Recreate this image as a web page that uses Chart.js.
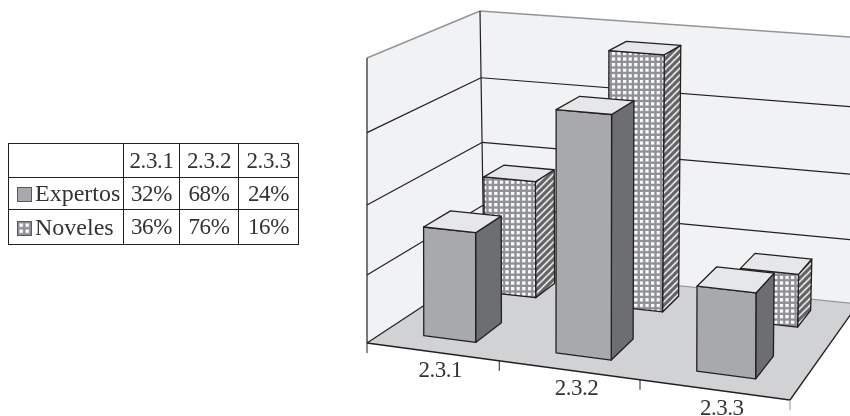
<html>
  <head>
    <meta charset="utf-8" />
    <script src="https://cdn.jsdelivr.net/npm/chart.js@4/dist/chart.umd.min.js"></script>
    <style>
      body { margin: 0; background: #fff; width: 850px; height: 416px; overflow: hidden; }
      #chart { position: absolute; left: 0; top: 0; }
      #tabla {
        position: absolute; left: 8px; top: 143px; width: 291px; height: 102px;
        table-layout: fixed; border-collapse: collapse;
        font-family: "Liberation Serif", serif; font-size: 23px; letter-spacing: -0.4px; color: #333;
      }
      #tabla td { box-sizing: border-box; border: 1px solid #231f20; padding: 0; text-align: center; white-space: nowrap; overflow: hidden; }
      #tabla td.serie { text-align: left; padding-left: 8px; font-size: 24px; letter-spacing: 0; }
      .swatch { display: inline-block; width: 13px; height: 13px; border: 1px solid #58595b; margin-right: 3px; vertical-align: -1px; }
    </style>
  </head>
  <body>
    <canvas id="chart" width="850" height="416"></canvas>
    <table id="tabla"></table>
    <script>
      const categories = ["2.3.1", "2.3.2", "2.3.3"];
      const expertos = [32, 68, 24];
      const noveles = [36, 76, 16];
      const seriesNames = ["Expertos", "Noveles"];
      const yTicks = [0, 20, 40, 60, 80];

      // the box the chart stands in, as seen on screen: [left/right][bottom/top][front/back]
      const box = {
        "000": [367, 343], "100": [790, 400], "001": [484, 266], "101": [858, 304],
        "010": [367, 58], "110": [790, 92], "011": [480, 11], "111": [866, 38]
      };
      const perspective = { u: -0.09, v: -0.06, w: 0.165 };
      // depth slots of the two rows of bars, 0 = front of floor, 1 = back wall
      const rows = [[0.14, 0.365], [0.68, 0.875]];

      const ink = "#231f20";
      const grey = "#939598";

      function warp(t, k) {
        return ((1 + k) * t) / (1 + k * t);
      }

      function project(u, v, w) {
        const a = warp(u, perspective.u);
        const b = warp(v, perspective.v);
        const c = warp(w, perspective.w);
        let x = 0, y = 0;
        for (const key in box) {
          const f = (key[0] == "1" ? a : 1 - a) * (key[1] == "1" ? b : 1 - b) * (key[2] == "1" ? c : 1 - c);
          x += f * box[key][0];
          y += f * box[key][1];
        }
        return [x, y];
      }

      function face(ctx, pts, fill, stroke, lineWidth) {
        ctx.beginPath();
        pts.forEach((p, i) => (i ? ctx.lineTo(p[0], p[1]) : ctx.moveTo(p[0], p[1])));
        ctx.closePath();
        if (fill) {
          ctx.fillStyle = fill;
          ctx.fill();
        }
        if (stroke) {
          ctx.strokeStyle = stroke;
          ctx.lineWidth = lineWidth || 1.3;
          ctx.stroke();
        }
      }

      function line(ctx, a, b, color, lineWidth) {
        ctx.beginPath();
        ctx.moveTo(a[0], a[1]);
        ctx.lineTo(b[0], b[1]);
        ctx.strokeStyle = color;
        ctx.lineWidth = lineWidth;
        ctx.stroke();
      }

      function dotTile() {
        const c = document.createElement("canvas");
        c.width = c.height = 8;
        const g = c.getContext("2d");
        g.fillStyle = "#8f9194";
        g.fillRect(0, 0, 8, 8);
        g.fillStyle = "#fff";
        g.fillRect(2, 2, 4.6, 4.6);
        return c;
      }

      function stripeTile() {
        const c = document.createElement("canvas");
        c.width = c.height = 8;
        const g = c.getContext("2d");
        g.fillStyle = "#636466";
        g.fillRect(0, 0, 8, 8);
        g.strokeStyle = "#fff";
        g.lineWidth = 1.6;
        [[-2, 10, 10, -2], [-6, 6, 6, -6], [2, 14, 14, 2]].forEach(l => {
          g.beginPath();
          g.moveTo(l[0], l[1]);
          g.lineTo(l[2], l[3]);
          g.stroke();
        });
        return c;
      }

      function drawRoom(chart, ctx) {
        const { x: xScale, y: yScale } = chart.scales;
        const toV = val => (yScale.bottom - yScale.getPixelForValue(val)) / (yScale.bottom - yScale.top);

        face(ctx, [project(0, 0, 0), project(0, 1, 0), project(0, 1, 1), project(0, 0, 1)], "#f1f2f4");
        face(ctx, [project(0, 0, 1), project(0, 1, 1), project(1, 1, 1), project(1, 0, 1)], "#f1f2f4");
        face(ctx, [project(0, 0, 0), project(0, 0, 1), project(1, 0, 1), project(1, 0, 0)], "#d1d2d4");

        yScale.ticks.forEach(t => {
          const v = toV(t.value);
          if (v > 0 && v < 1) {
            line(ctx, project(0, v, 0), project(0, v, 1), ink, 1.2);
            line(ctx, project(0, v, 1), project(1, v, 1), ink, 1.2);
          }
        });
        line(ctx, project(0, 1, 0), project(0, 1, 1), grey, 1.5);
        line(ctx, project(0, 1, 1), project(1, 1, 1), grey, 1.5);
        line(ctx, project(0, 0, 1), project(1, 0, 1), grey, 1.2);
        line(ctx, project(0, 0, 1), project(0, 1, 1), ink, 1.2);
        line(ctx, project(0, 0, 0), project(0, 1, 0), ink, 1.2);
        line(ctx, project(0, 0, 0), project(0, 0, 1), ink, 1.2);
        line(ctx, project(0, 0, 0), project(1, 0, 0), ink, 1.3);
        line(ctx, project(1, 0, 0), project(1, 0, 1), ink, 1.3);

        // ticks and labels hanging under the front edge of the floor
        const n = categories.length;
        for (let i = 0; i <= n; i++) {
          const p = project(i / n, 0, 0);
          line(ctx, p, [p[0], p[1] + 10], i == n ? grey : ink, 1);
        }
        ctx.font = '23px "Liberation Serif", serif';
        ctx.letterSpacing = "-0.5px";
        ctx.fillStyle = "#333";
        ctx.textAlign = "center";
        ctx.textBaseline = "middle";
        categories.forEach((_, i) => {
          const u = (xScale.getPixelForValue(i) - xScale.left) / (xScale.right - xScale.left);
          const p = project(u, 0, 0);
          ctx.fillText(xScale.getLabelForValue(i), p[0] + 8, p[1] + 19);
        });
      }

      function drawBar(chart, ctx, bar, row, fills) {
        const { x: xScale, y: yScale } = chart.scales;
        const u0 = (bar.x - bar.width / 2 - xScale.left) / (xScale.right - xScale.left);
        const u1 = (bar.x + bar.width / 2 - xScale.left) / (xScale.right - xScale.left);
        const v = (yScale.bottom - bar.y) / (yScale.bottom - yScale.top);
        const [w0, w1] = rows[row];

        face(ctx, [project(u1, 0, w0), project(u1, v, w0), project(u1, v, w1), project(u1, 0, w1)], fills.side, ink);
        face(ctx, [project(u0, 0, w0), project(u0, v, w0), project(u1, v, w0), project(u1, 0, w0)], fills.front, ink);
        face(ctx, [project(u0, v, w0), project(u0, v, w1), project(u1, v, w1), project(u1, v, w0)], fills.top, ink);
      }

      const box3d = {
        id: "box3d",
        beforeDatasetsDraw(chart) {
          const ctx = chart.ctx;
          ctx.save();
          ctx.lineJoin = "round";
          drawRoom(chart, ctx);

          const dots = ctx.createPattern(dotTile(), "repeat");
          dots.setTransform(new DOMMatrix().scale(0.7));
          const stripes = ctx.createPattern(stripeTile(), "repeat");
          stripes.setTransform(new DOMMatrix().scale(0.85));
          const looks = [
            { front: "#a7a9ac", side: "#6d6e71", top: "#e6e7e8" },
            { front: dots, side: stripes, top: "#e6e7e8" }
          ];

          // back row first so the front row covers it
          for (let row = rows.length - 1; row >= 0; row--) {
            chart.getDatasetMeta(row).data.forEach(bar => drawBar(chart, ctx, bar, row, looks[row]));
          }
          ctx.restore();
          return false;
        }
      };

      const chart = new Chart(document.getElementById("chart").getContext("2d"), {
        type: "bar",
        data: {
          labels: categories,
          datasets: [
            { label: seriesNames[0], data: expertos, grouped: false, barPercentage: 0.4, categoryPercentage: 1 },
            { label: seriesNames[1], data: noveles, grouped: false, barPercentage: 0.42, categoryPercentage: 1 }
          ]
        },
        options: {
          responsive: false,
          animation: false,
          plugins: { legend: { display: false }, tooltip: { enabled: false } },
          scales: {
            x: { display: false },
            y: {
              display: false,
              min: yTicks[0],
              max: yTicks[yTicks.length - 1],
              ticks: { stepSize: yTicks[1] - yTicks[0] }
            }
          }
        },
        plugins: [box3d]
      });

      // data table on the left
      const widths = [115, 56, 59, 60];
      const heights = [34, 32, 35];
      const table = document.getElementById("tabla");
      function addRow(cells, h) {
        const tr = table.insertRow();
        tr.style.height = h + "px";
        cells.forEach((text, i) => {
          const td = tr.insertCell();
          td.style.width = widths[i] + "px";
          if (i == 0 && text) {
            const s = document.createElement("span");
            s.className = "swatch";
            td.className = "serie";
            td.appendChild(s);
            td.appendChild(document.createTextNode(text));
            s.style.background = text == seriesNames[0] ? "#a7a9ac" : "url(" + dotTile().toDataURL() + ") 0 0 / 6px 6px";
          } else {
            td.textContent = text;
          }
        });
      }
      addRow([""].concat(categories), heights[0]);
      addRow([seriesNames[0]].concat(expertos.map(v => v + "%")), heights[1]);
      addRow([seriesNames[1]].concat(noveles.map(v => v + "%")), heights[2]);
    </script>
  </body>
</html>
